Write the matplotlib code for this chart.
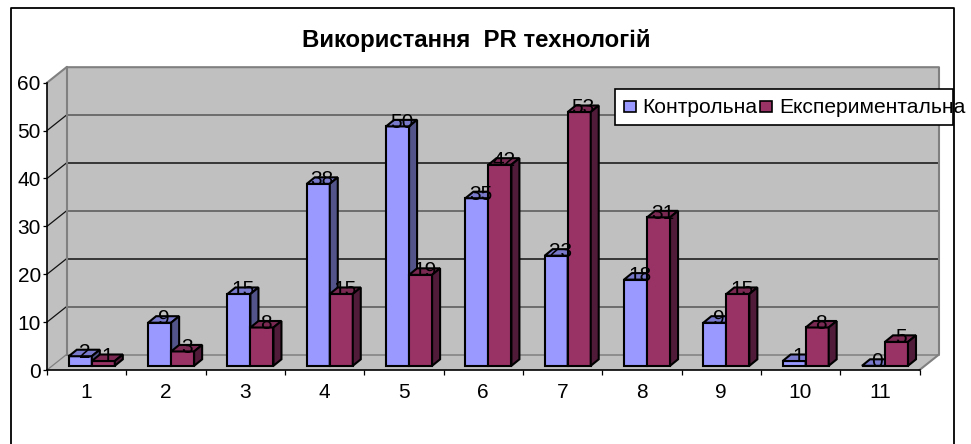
import matplotlib
matplotlib.use('Agg')
import matplotlib.pyplot as plt
from matplotlib.patches import Polygon, Rectangle

plt.rcParams['font.family'] = ['Liberation Sans', 'DejaVu Sans']

title = 'Використання  PR технологій'
categories = ['1', '2', '3', '4', '5', '6', '7', '8', '9', '10', '11']
control = [2, 9, 15, 38, 50, 35, 23, 18, 9, 1, 0]
experimental = [1, 3, 8, 15, 19, 42, 53, 31, 15, 8, 5]
series_names = ['Контрольна', 'Експериментальна']
y_ticks = [0, 10, 20, 30, 40, 50, 60]

W, H = 971, 444
X0, X1, Y0, Y60 = 47.0, 919.5, 370.0, 82.7
fig = plt.figure(figsize=(W / 100, H / 100), dpi=100, facecolor='white')
ax = fig.add_axes([X0 / W, 1 - Y0 / H, (X1 - X0) / W, (Y0 - Y60) / H])
n = len(categories)
ax.set_xlim(0, n)
ax.set_ylim(0, 60)
ax.patch.set_visible(False)

ux = (X1 - X0) / n
uy = (Y0 - Y60) / 60
wall_dx, wall_dy = 19.5 / ux, 15.5 / uy
bar_dx, bar_dy = 8.0 / ux, 6.5 / uy
base = 4.2 / uy
offset = 0.275
bw = 0.29
LW = 1.5

WALL = '#C0C0C0'
EDGE = '#808080'
ax.add_patch(Polygon([(0, 0), (wall_dx, wall_dy), (wall_dx, 60 + wall_dy), (0, 60)],
                     fc=WALL, ec='none', zorder=1, clip_on=False))
ax.add_patch(Polygon([(0, 0), (wall_dx, wall_dy), (n + wall_dx, wall_dy), (n, 0)],
                     fc=WALL, ec='none', zorder=1, clip_on=False))
ax.add_patch(Rectangle((wall_dx, wall_dy), n, 60, fc=WALL, ec='none', zorder=1, clip_on=False))

grid_cols = {0: EDGE, 10: '#555555', 20: '#111111', 30: '#555555', 40: '#111111', 50: '#555555'}
for v in y_ticks[:-1]:
    ax.plot([wall_dx, n + wall_dx], [v + wall_dy] * 2, color=grid_cols[v], lw=1.1,
            zorder=2, clip_on=False)
    ax.plot([0, wall_dx], [v, v + wall_dy], color='#111111' if v else EDGE, lw=0.9, zorder=2, clip_on=False)
ax.plot([0, wall_dx, n + wall_dx, n + wall_dx, n],
        [60, 60 + wall_dy, 60 + wall_dy, wall_dy, 0],
        color=EDGE, lw=1.5, zorder=2, clip_on=False)
ax.plot([wall_dx, wall_dx], [wall_dy, 60 + wall_dy], color=EDGE, lw=1.5, zorder=2, clip_on=False)

styles = [(control, '#9999FF', '#7A7ACC', '#53558A', 0.0, 4),
          (experimental, '#993366', '#7A2952', '#4F1B38', bw, 5)]
for vals, face, top, side, shift, z in styles:
    lefts = [i + offset + shift for i in range(n)]
    ax.bar(lefts, vals, width=bw, bottom=base, align='edge', color=face, edgecolor='black',
           linewidth=LW, zorder=z, clip_on=False)
    for left, v in zip(lefts, vals):
        t = v + base
        ax.add_patch(Polygon([(left, t), (left + bar_dx, t + bar_dy),
                              (left + bw + bar_dx, t + bar_dy), (left + bw, t)],
                             fc=top, ec='black', lw=LW, zorder=z, clip_on=False))
        ax.add_patch(Polygon([(left + bw, base), (left + bw + bar_dx, base + bar_dy),
                              (left + bw + bar_dx, t + bar_dy), (left + bw, t)],
                             fc=side, ec='black', lw=LW, zorder=z, clip_on=False))
for vals, shift in ((control, 0.0), (experimental, bw)):
    for i, v in enumerate(vals):
        ax.text(i + offset + shift + bw / 2 + bar_dx / 2, v + base + bar_dy / 2 + 0.2, str(v),
                ha='center', va='center', fontsize=15, color='black', zorder=8)

for s in ('top', 'right'):
    ax.spines[s].set_visible(False)
for s in ('left', 'bottom'):
    ax.spines[s].set_color('black')
    ax.spines[s].set_linewidth(1.2)
    ax.spines[s].set_zorder(3)
ax.set_yticks(y_ticks)
ax.set_xticks(range(n + 1))
ax.set_xticklabels([])
ax.set_xticks([i + 0.5 for i in range(n)], labels=categories, minor=True)
ax.tick_params(axis='y', length=3, width=0.9, pad=1.5, labelsize=15, colors='black')
ax.tick_params(axis='x', which='major', length=3.5, width=0.9, color='black')
ax.tick_params(axis='x', which='minor', length=0, pad=9.5, labelsize=15)

ov = fig.add_axes([0, 0, 1, 1], zorder=10)
ov.set_xlim(0, W)
ov.set_ylim(H, 0)
ov.axis('off')
ov.plot([11, 11, 954, 954], [H, 8, 8, H], color='black', lw=1.3, zorder=1)
ov.text(476.5, 40, title, ha='center', va='center', fontsize=17.3, fontweight='bold', color='black')
ov.add_patch(Rectangle((615, 89.5), 337.5, 36, fc='white', ec='black', lw=1.2, zorder=2))
ov.add_patch(Rectangle((624, 101), 12, 11, fc='#9999FF', ec='black', lw=1.2, zorder=3))
ov.add_patch(Rectangle((760, 101), 12, 11, fc='#993366', ec='black', lw=1.2, zorder=3))
ov.text(642.5, 107, series_names[0], ha='left', va='center', fontsize=15.1, color='black', zorder=4)
ov.text(779, 107, series_names[1], ha='left', va='center', fontsize=15.1, color='black', zorder=4)

fig.savefig('out.png', dpi=100)
